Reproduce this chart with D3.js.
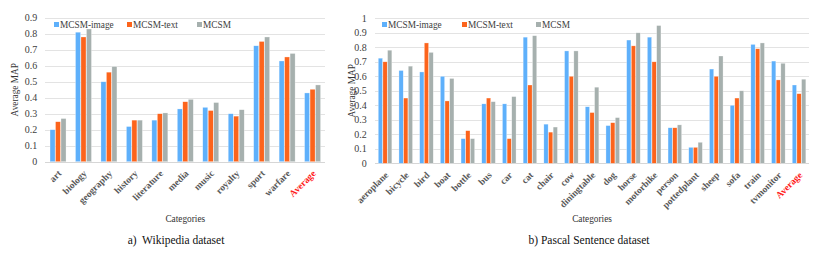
<!DOCTYPE html>
<html lang="en">
<head>
<meta charset="UTF-8">
<title>MCSM Average MAP</title>
<script src="https://d3js.org/d3.v7.min.js"></script>
<style>
    body { margin: 0; background: #fff; }
    svg text { font-family: "Liberation Serif", "DejaVu Serif", Times, serif; }
    .grid-line { stroke: #e3e3e3; stroke-width: 1; shape-rendering: crispEdges; }
    .tick-label { font-size: 10px; fill: #404040; text-anchor: end; }
    .cat-label { font-size: 9.5px; font-weight: bold; fill: #595959; text-anchor: end; }
    .axis-title { font-size: 9.3px; fill: #333; text-anchor: middle; }
    .legend-text { font-size: 9.3px; fill: #404040; }
    .caption { font-size: 11.5px; fill: #111; text-anchor: middle; }
</style>
</head>
<body>
<script>
    const seriesNames = ["MCSM-image", "MCSM-text", "MCSM"];
    const colors = ["#5eb0fb", "#fc641c", "#a6b0ae"];

    // a) Wikipedia
    const wikiCategories = ["art", "biology", "geography", "history", "literature", "media", "music", "royalty", "sport", "warfare", "Average"];
    const wikiImage = [0.20, 0.81, 0.50, 0.22, 0.26, 0.33, 0.34, 0.30, 0.725, 0.63, 0.43];
    const wikiText  = [0.25, 0.78, 0.56, 0.26, 0.30, 0.375, 0.32, 0.285, 0.752, 0.655, 0.453];
    const wikiMCSM  = [0.27, 0.83, 0.595, 0.26, 0.305, 0.39, 0.37, 0.325, 0.78, 0.677, 0.48];
    const wikiTicks = [0, 0.1, 0.2, 0.3, 0.4, 0.5, 0.6, 0.7, 0.8, 0.9];

    // b) Pascal Sentence
    const pascalCategories = ["aeroplane", "bicycle", "bird", "boat", "bottle", "bus", "car", "cat", "chair", "cow", "diningtable", "dog", "horse", "motorbike", "person", "pottedplant", "sheep", "sofa", "train", "tvmonitor", "Average"];
    const pascalImage = [0.725, 0.64, 0.63, 0.60, 0.17, 0.41, 0.41, 0.87, 0.27, 0.775, 0.39, 0.26, 0.85, 0.87, 0.245, 0.11, 0.65, 0.40, 0.82, 0.705, 0.54];
    const pascalText  = [0.70, 0.45, 0.83, 0.43, 0.225, 0.45, 0.17, 0.54, 0.215, 0.60, 0.35, 0.28, 0.81, 0.70, 0.245, 0.11, 0.60, 0.45, 0.79, 0.575, 0.48];
    const pascalMCSM  = [0.78, 0.67, 0.765, 0.585, 0.17, 0.425, 0.46, 0.88, 0.25, 0.775, 0.525, 0.315, 0.90, 0.95, 0.265, 0.145, 0.74, 0.50, 0.83, 0.69, 0.58];
    const pascalTicks = [0, 0.1, 0.2, 0.3, 0.4, 0.5, 0.6, 0.7, 0.8, 0.9, 1];

    const svg = d3.select("body").append("svg")
        .attr("width", 830)
        .attr("height", 261);

    function drawChart(opts) {
        const g = svg.append("g");
        const series = [opts.image, opts.text, opts.mcsm];

        const x = d3.scaleBand()
            .domain(opts.categories)
            .range([opts.left, opts.right]);

        const y = d3.scaleLinear()
            .domain([0, opts.max])
            .range([opts.bottom, opts.top]);

        // gridlines
        g.selectAll(".grid-line")
            .data(opts.ticks)
            .enter().append("line")
            .attr("class", "grid-line")
            .attr("x1", opts.left)
            .attr("x2", opts.right)
            .attr("y1", d => Math.round(y(d)) + 0.5)
            .attr("y2", d => Math.round(y(d)) + 0.5)
            .style("stroke", d => d === 0 ? "#d6d6d6" : null);

        // y tick labels
        g.selectAll(".tick-label")
            .data(opts.ticks)
            .enter().append("text")
            .attr("class", "tick-label")
            .attr("x", opts.left - 8)
            .attr("y", d => y(d))
            .attr("dy", "0.35em")
            .text(d => d === 0 ? "0" : String(+d.toFixed(1)));

        // bars
        const inner = d3.scaleBand()
            .domain(d3.range(3))
            .range([0, opts.groupWidth])
            .paddingInner(0.08);
        const offset = (x.bandwidth() - opts.groupWidth) / 2;

        series.forEach(function (vals, si) {
            g.selectAll(".bar-" + si)
                .data(opts.categories.map((c, i) => ({ c: c, v: vals[i] })))
                .enter().append("rect")
                .attr("class", "bar-" + si)
                .attr("x", d => x(d.c) + offset + inner(si))
                .attr("width", inner.bandwidth())
                .attr("y", d => y(d.v))
                .attr("height", d => y(0) - y(d.v))
                .style("fill", colors[si])
                .style("stroke", "rgba(255,255,255,0.6)")
                .style("stroke-width", 0.5);
        });

        // category labels (rotated, Average in red)
        g.selectAll(".cat-label")
            .data(opts.categories)
            .enter().append("text")
            .attr("class", "cat-label")
            .attr("transform", d => "translate(" + (x(d) + x.bandwidth() / 2 + 1.5) + "," + (opts.bottom + 10) + ") rotate(-45)")
            .attr("dy", "0.35em")
            .style("fill", d => d === "Average" ? "#ff1a1a" : null)
            .text(d => d);

        // y axis title
        g.append("text")
            .attr("class", "axis-title")
            .attr("transform", "translate(" + opts.yTitleX + "," + ((opts.top + opts.bottom) / 2) + ") rotate(-90)")
            .attr("dy", "0.35em")
            .text("Average MAP");

        // x axis title
        g.append("text")
            .attr("class", "axis-title")
            .attr("x", (opts.left + opts.right) / 2)
            .attr("y", 222)
            .text("Categories");

        // caption
        g.append("text")
            .attr("class", "caption")
            .attr("x", opts.captionX)
            .attr("y", 244)
            .style("white-space", "pre")
            .text(opts.caption);

        // legend
        const legend = g.selectAll(".legend")
            .data(seriesNames)
            .enter().append("g")
            .attr("class", "legend")
            .attr("transform", (d, i) => "translate(" + opts.legendX[i] + "," + opts.legendY + ")");

        legend.append("rect")
            .attr("x", 0)
            .attr("y", -3)
            .attr("width", 5)
            .attr("height", 5)
            .style("fill", (d, i) => colors[i]);

        legend.append("text")
            .attr("class", "legend-text")
            .attr("x", 6)
            .attr("y", 0)
            .attr("dy", "0.35em")
            .text(d => d);
    }

    drawChart({
        categories: wikiCategories,
        image: wikiImage, text: wikiText, mcsm: wikiMCSM,
        ticks: wikiTicks, max: 0.9,
        left: 45.3, right: 325.3, top: 17.8, bottom: 161.7,
        groupWidth: 16,
        yTitleX: 15,
        legendX: [54, 127, 197], legendY: 25,
        caption: "a)  Wikipedia dataset", captionX: 176
    });

    drawChart({
        categories: pascalCategories,
        image: pascalImage, text: pascalText, mcsm: pascalMCSM,
        ticks: pascalTicks, max: 1,
        left: 374.7, right: 809.4, top: 18.3, bottom: 163.3,
        groupWidth: 13.6,
        yTitleX: 352,
        legendX: [382, 462, 536], legendY: 25,
        caption: "b) Pascal Sentence dataset", captionX: 589
    });
</script>
</body>
</html>
